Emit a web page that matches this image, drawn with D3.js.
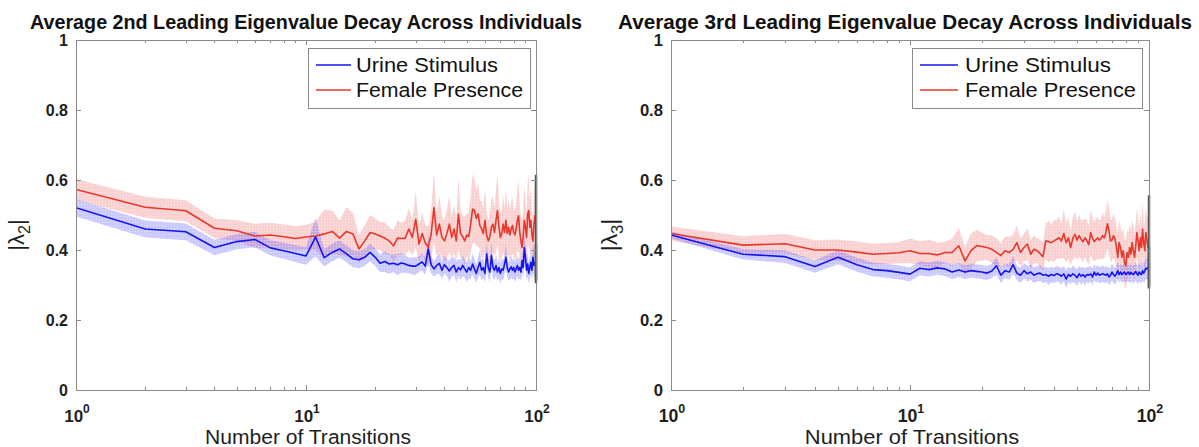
<!DOCTYPE html>
<html>
<head>
<meta charset="utf-8">
<script src="https://cdn.jsdelivr.net/npm/d3@7"></script>
<style>
  html, body { margin: 0; padding: 0; background: #fff; }
  svg { display: block; font-family: "Liberation Sans", Arial, sans-serif; }
</style>
</head>
<body>
<svg id="fig" width="1199" height="447"></svg>
<script>
// Number of transitions (x values, 1..100)
const transitions = d3.range(1, 101);

// Left panel: 2nd leading eigenvalue, mean per transition count
const urine2 = [
  0.521,0.460,0.452,0.407,0.424,0.430,0.406,0.398,0.390,0.383,
  0.437,0.378,0.393,0.403,0.389,0.375,0.372,0.379,0.393,0.379,
  0.362,0.367,0.360,0.362,0.358,0.363,0.360,0.356,0.354,0.354,
  0.360,0.366,0.354,0.403,0.358,0.346,0.356,0.362,0.342,0.358,
  0.349,0.340,0.350,0.356,0.337,0.350,0.343,0.356,0.346,0.337,
  0.350,0.342,0.360,0.346,0.333,0.350,0.365,0.342,0.350,0.333,
  0.389,0.350,0.337,0.384,0.350,0.342,0.356,0.337,0.350,0.333,
  0.346,0.342,0.360,0.379,0.350,0.337,0.346,0.352,0.342,0.350,
  0.337,0.346,0.356,0.342,0.350,0.337,0.370,0.350,0.407,0.379,
  0.342,0.360,0.333,0.350,0.365,0.342,0.379,0.356,0.365,0.360
];
const female2 = [
  0.573,0.522,0.512,0.462,0.455,0.440,0.443,0.438,0.433,0.437,
  0.440,0.446,0.453,0.434,0.453,0.446,0.403,0.426,0.450,0.446,
  0.440,0.434,0.426,0.412,0.434,0.433,0.434,0.460,0.436,0.488,
  0.417,0.447,0.420,0.408,0.445,0.521,0.443,0.474,0.436,0.426,
  0.447,0.474,0.436,0.460,0.426,0.503,0.447,0.438,0.426,0.443,
  0.438,0.474,0.517,0.513,0.490,0.503,0.470,0.460,0.447,0.485,
  0.443,0.426,0.438,0.465,0.474,0.450,0.485,0.513,0.465,0.436,
  0.447,0.474,0.450,0.485,0.447,0.465,0.443,0.460,0.470,0.450,
  0.443,0.460,0.485,0.498,0.450,0.426,0.407,0.443,0.485,0.465,
  0.436,0.503,0.513,0.465,0.485,0.443,0.426,0.474,0.498,0.465
];
// Half-width of the shaded error band
const urine2Err = [
  0.025,0.024,0.024,0.022,0.022,0.022,0.022,0.023,0.024,0.025,
  0.055,0.025,0.025,0.025,0.024,0.024,0.024,0.024,0.025,0.025,
  0.025,0.030,0.028,0.025,0.030,0.028,0.025,0.022,0.025,0.025,
  0.022,0.025,0.025,0.040,0.025,0.022,0.025,0.030,0.025,0.025,
  0.025,0.030,0.028,0.025,0.030,0.025,0.028,0.030,0.025,0.028,
  0.030,0.025,0.030,0.028,0.025,0.030,0.035,0.028,0.030,0.025,
  0.040,0.030,0.028,0.040,0.030,0.028,0.030,0.025,0.030,0.028,
  0.030,0.028,0.030,0.035,0.030,0.025,0.030,0.030,0.028,0.030,
  0.028,0.030,0.030,0.028,0.030,0.025,0.035,0.030,0.045,0.035,
  0.030,0.035,0.030,0.030,0.035,0.030,0.040,0.035,0.040,0.055
];
const female2Err = [
  0.030,0.030,0.030,0.028,0.030,0.035,0.035,0.035,0.035,0.035,
  0.040,0.070,0.060,0.050,0.070,0.060,0.040,0.045,0.050,0.045,
  0.040,0.045,0.040,0.045,0.050,0.045,0.050,0.060,0.050,0.080,
  0.050,0.060,0.050,0.060,0.070,0.100,0.060,0.080,0.060,0.060,
  0.070,0.080,0.060,0.070,0.060,0.100,0.070,0.060,0.070,0.060,
  0.070,0.080,0.100,0.090,0.080,0.090,0.070,0.080,0.070,0.090,
  0.070,0.060,0.070,0.080,0.080,0.070,0.090,0.100,0.080,0.070,
  0.070,0.080,0.070,0.090,0.070,0.080,0.070,0.080,0.080,0.070,
  0.070,0.080,0.090,0.100,0.080,0.070,0.080,0.070,0.100,0.080,
  0.070,0.090,0.100,0.080,0.090,0.070,0.070,0.090,0.100,0.150
];

// Right panel: 3rd leading eigenvalue
const urine3 = [
  0.443,0.388,0.381,0.353,0.379,0.358,0.344,0.341,0.336,0.331,
  0.348,0.344,0.349,0.346,0.337,0.343,0.337,0.341,0.339,0.337,
  0.334,0.340,0.355,0.328,0.341,0.337,0.358,0.334,0.328,0.341,
  0.332,0.337,0.328,0.332,0.334,0.328,0.330,0.325,0.330,0.327,
  0.332,0.330,0.325,0.332,0.317,0.330,0.325,0.332,0.328,0.321,
  0.332,0.325,0.330,0.323,0.330,0.328,0.332,0.323,0.337,0.328,
  0.334,0.328,0.330,0.332,0.330,0.328,0.332,0.323,0.328,0.337,
  0.330,0.325,0.332,0.341,0.330,0.337,0.330,0.334,0.337,0.330,
  0.334,0.337,0.330,0.336,0.332,0.330,0.334,0.339,0.332,0.328,
  0.337,0.332,0.330,0.341,0.334,0.339,0.348,0.346,0.350,0.350
];
const female3 = [
  0.447,0.414,0.418,0.400,0.400,0.394,0.388,0.390,0.392,0.398,
  0.390,0.390,0.386,0.393,0.393,0.412,0.369,0.398,0.412,0.410,
  0.407,0.402,0.393,0.384,0.398,0.393,0.402,0.421,0.393,0.407,
  0.417,0.388,0.402,0.398,0.390,0.381,0.426,0.424,0.421,0.426,
  0.430,0.435,0.426,0.447,0.421,0.435,0.407,0.433,0.445,0.428,
  0.441,0.430,0.424,0.435,0.426,0.415,0.450,0.433,0.424,0.430,
  0.435,0.428,0.433,0.441,0.435,0.450,0.475,0.455,0.426,0.428,
  0.441,0.433,0.412,0.379,0.421,0.407,0.379,0.398,0.365,0.355,
  0.393,0.379,0.407,0.388,0.421,0.398,0.379,0.412,0.450,0.426,
  0.398,0.435,0.407,0.460,0.421,0.398,0.450,0.430,0.407,0.426
];
const urine3Err = [
  0.010,0.015,0.018,0.018,0.020,0.020,0.020,0.020,0.020,0.020,
  0.020,0.020,0.020,0.020,0.020,0.020,0.020,0.020,0.020,0.020,
  0.020,0.020,0.025,0.022,0.020,0.022,0.025,0.020,0.022,0.022,
  0.022,0.022,0.022,0.022,0.022,0.022,0.022,0.024,0.022,0.022,
  0.022,0.022,0.024,0.022,0.025,0.022,0.022,0.024,0.022,0.024,
  0.022,0.024,0.022,0.024,0.022,0.024,0.022,0.024,0.022,0.024,
  0.022,0.024,0.022,0.024,0.022,0.024,0.022,0.024,0.024,0.024,
  0.024,0.024,0.024,0.024,0.024,0.024,0.024,0.026,0.024,0.026,
  0.024,0.026,0.024,0.026,0.024,0.026,0.024,0.026,0.026,0.026,
  0.026,0.026,0.026,0.028,0.026,0.028,0.030,0.030,0.035,0.060
];
const female3Err = [
  0.020,0.025,0.028,0.028,0.030,0.030,0.030,0.030,0.030,0.035,
  0.035,0.040,0.035,0.030,0.040,0.050,0.040,0.050,0.045,0.040,
  0.035,0.040,0.040,0.035,0.040,0.045,0.040,0.050,0.040,0.040,
  0.045,0.040,0.040,0.035,0.040,0.040,0.050,0.060,0.050,0.060,
  0.055,0.060,0.050,0.070,0.055,0.060,0.050,0.060,0.065,0.055,
  0.060,0.055,0.060,0.055,0.060,0.055,0.065,0.060,0.055,0.060,
  0.060,0.055,0.060,0.065,0.060,0.060,0.070,0.065,0.060,0.060,
  0.065,0.060,0.060,0.070,0.065,0.060,0.070,0.065,0.070,0.070,
  0.065,0.070,0.065,0.070,0.065,0.070,0.070,0.065,0.070,0.070,
  0.065,0.070,0.070,0.075,0.070,0.070,0.075,0.070,0.080,0.130
];

const seriesNames = ["Urine Stimulus", "Female Presence"];
const yTicks = [0, 0.2, 0.4, 0.6, 0.8, 1];
const yTickLabels = ["0", "0.2", "0.4", "0.6", "0.8", "1"];
const xMajor = [1, 10, 100];
const xMajorExp = ["0", "1", "2"];
const titles = [
  "Average 2nd Leading Eigenvalue Decay Across Individuals",
  "Average 3rd Leading Eigenvalue Decay Across Individuals"
];
const yLabelSub = ["2", "3"];

const colors = { blue: "#1414f0", red: "#e8372b" };
const bandColors = { blue: "#5a5aff", red: "#f07070" };

const svg = d3.select("#fig");

// Dotted fill patterns that give the bands their speckled look
const defs = svg.append("defs");
function makePattern(id, color) {
  const p = defs.append("pattern").attr("id", id)
    .attr("patternUnits", "userSpaceOnUse").attr("width", 3).attr("height", 3);
  p.append("rect").attr("width", 3).attr("height", 3).attr("fill", color).attr("fill-opacity", 0.32);
  p.append("rect").attr("x", 0).attr("y", 0).attr("width", 1).attr("height", 1)
    .attr("fill", "#fff").attr("fill-opacity", 0.45);
}
makePattern("bandRed", bandColors.red);
makePattern("bandBlue", bandColors.blue);

// The right figure is exported slightly larger, so its text runs a little wider.
const panels = [
  { left: 76, right: 536, top: 40, bottom: 390, urine: urine2, female: female2,
    uErr: urine2Err, fErr: female2Err, title: titles[0], sub: yLabelSub[0],
    titleX: 306, titleW: 552, k: 1.0,
    legend: { x: 308, y: 48, w: 222, h: 60, textX: 48, lineEnd: 43, textW: [142, 167] } },
  { left: 671, right: 1149, top: 40, bottom: 390, urine: urine3, female: female3,
    uErr: urine3Err, fErr: female3Err, title: titles[1], sub: yLabelSub[1],
    titleX: 905, titleW: 574, k: 1.04,
    legend: { x: 912, y: 48, w: 230, h: 60, textX: 53, lineEnd: 46, textW: [146, 171] } }
];

const axisColor = "#8a8a8a";
const textColor = "#1e1e1e";

panels.forEach(P => {
  const x = d3.scaleLog().domain([1, 100]).range([P.left, P.right]);
  const y = d3.scaleLinear().domain([0, 1]).range([P.bottom, P.top]);
  const g = svg.append("g");

  const clipId = "clip" + P.left;
  defs.append("clipPath").attr("id", clipId).append("rect")
    .attr("x", P.left).attr("y", P.top).attr("width", P.right - P.left).attr("height", P.bottom - P.top);

  const plot = g.append("g").attr("clip-path", `url(#${clipId})`);

  const band = (mean, err) => d3.area()
    .x((d, i) => x(transitions[i]))
    .y0((d, i) => y(mean[i] - err[i]))
    .y1((d, i) => y(mean[i] + err[i]))(mean);
  const line = mean => d3.line()
    .x((d, i) => x(transitions[i]))
    .y(d => y(d))(mean);

  plot.append("path").attr("d", band(P.female, P.fErr)).attr("fill", "url(#bandRed)");
  plot.append("path").attr("d", band(P.urine, P.uErr)).attr("fill", "url(#bandBlue)");

  // closing edge of each band at the last transition count
  const last = transitions.length - 1;
  [[P.female, P.fErr], [P.urine, P.uErr]].forEach(([m, e]) => {
    g.append("line")
      .attr("x1", x(transitions[last])).attr("x2", x(transitions[last]))
      .attr("y1", y(m[last] - e[last])).attr("y2", y(m[last] + e[last]))
      .attr("stroke", "#555").attr("stroke-width", 2.5);
  });

  plot.append("path").attr("d", line(P.female)).attr("fill", "none")
    .attr("stroke", colors.red).attr("stroke-width", 1.6).attr("stroke-linejoin", "round");
  plot.append("path").attr("d", line(P.urine)).attr("fill", "none")
    .attr("stroke", colors.blue).attr("stroke-width", 1.6).attr("stroke-linejoin", "round");

  // axes box
  g.append("rect").attr("x", P.left + 0.5).attr("y", P.top + 0.5)
    .attr("width", P.right - P.left).attr("height", P.bottom - P.top)
    .attr("fill", "none").attr("stroke", axisColor).attr("stroke-width", 1);

  // y ticks (inward, both sides)
  yTicks.forEach((t, i) => {
    const yy = Math.round(y(t)) + 0.5;
    g.append("line").attr("x1", P.left).attr("x2", P.left + 5).attr("y1", yy).attr("y2", yy)
      .attr("stroke", axisColor);
    g.append("line").attr("x1", P.right).attr("x2", P.right - 5).attr("y1", yy).attr("y2", yy)
      .attr("stroke", axisColor);
    g.append("text").attr("x", P.left - 8).attr("y", y(t) + 6)
      .attr("text-anchor", "end").attr("font-size", 16 * P.k).attr("font-weight", "bold")
      .attr("fill", textColor).text(yTickLabels[i]);
  });

  // x ticks: majors and log minors, top and bottom
  const minors = [];
  [1, 10].forEach(dec => d3.range(2, 10).forEach(k => minors.push(dec * k)));
  xMajor.forEach(v => {
    const xx = Math.round(x(v)) + 0.5;
    g.append("line").attr("x1", xx).attr("x2", xx).attr("y1", P.bottom).attr("y2", P.bottom - 5).attr("stroke", axisColor);
    g.append("line").attr("x1", xx).attr("x2", xx).attr("y1", P.top).attr("y2", P.top + 5).attr("stroke", axisColor);
  });
  minors.forEach(v => {
    const xx = Math.round(x(v)) + 0.5;
    g.append("line").attr("x1", xx).attr("x2", xx).attr("y1", P.bottom).attr("y2", P.bottom - 3).attr("stroke", axisColor);
    g.append("line").attr("x1", xx).attr("x2", xx).attr("y1", P.top).attr("y2", P.top + 3).attr("stroke", axisColor);
  });
  xMajor.forEach((v, i) => {
    const t = g.append("text").attr("x", x(v) + 1).attr("y", P.bottom + 32)
      .attr("text-anchor", "middle").attr("font-weight", "bold").attr("fill", textColor);
    t.append("tspan").attr("font-size", 17 * P.k).text("10");
    t.append("tspan").attr("font-size", 12 * P.k).attr("dy", -9).text(xMajorExp[i]);
  });

  // title
  g.append("text").attr("x", P.titleX).attr("y", 29)
    .attr("text-anchor", "middle").attr("font-size", 20 * P.k).attr("font-weight", "bold")
    .attr("fill", "#111").attr("textLength", P.titleW).attr("lengthAdjust", "spacingAndGlyphs")
    .text(P.title);

  // x label
  g.append("text").attr("x", (P.left + P.right) / 2 + 2).attr("y", 444)
    .attr("text-anchor", "middle").attr("font-size", 20 * P.k).attr("fill", textColor)
    .attr("textLength", 206 * P.k).attr("lengthAdjust", "spacingAndGlyphs")
    .text("Number of Transitions");

  // y label |λn|
  const yl = g.append("text")
    .attr("transform", `translate(${P.left - 52 * P.k},${(P.top + P.bottom) / 2 + 20}) rotate(-90)`)
    .attr("text-anchor", "middle").attr("font-size", 22 * P.k).attr("fill", textColor);
  yl.append("tspan").text("|λ");
  yl.append("tspan").attr("font-size", 16 * P.k).attr("dy", 6).text(P.sub);
  yl.append("tspan").attr("dy", -6).text("|");

  // legend
  const L = P.legend;
  const lg = g.append("g");
  lg.append("rect").attr("x", L.x + 0.5).attr("y", L.y + 0.5).attr("width", L.w).attr("height", L.h)
    .attr("fill", "#fff").attr("stroke", axisColor);
  [[colors.blue, seriesNames[0]], [colors.red, seriesNames[1]]].forEach(([c, name], i) => {
    const yy = L.y + 17 + i * 25;
    lg.append("line").attr("x1", L.x + 8).attr("x2", L.x + L.lineEnd).attr("y1", yy).attr("y2", yy)
      .attr("stroke", c).attr("stroke-width", 1.6);
    lg.append("text").attr("x", L.x + L.textX).attr("y", yy + 7).attr("font-size", 20 * P.k)
      .attr("fill", "#111").attr("textLength", L.textW[i]).attr("lengthAdjust", "spacingAndGlyphs")
      .text(name);
  });
});
</script>
</body>
</html>
